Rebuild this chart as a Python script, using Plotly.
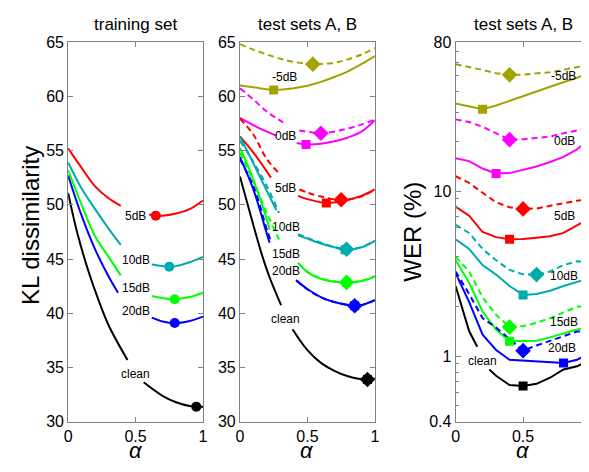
import math
import plotly.graph_objects as go

# ---------------- colours ----------------
C_OLIVE = "#A3A300"
C_MAG = "#FF00FF"
C_RED = "#FF0000"
C_CYAN = "#00ABAB"
C_GREEN = "#00FF00"
C_BLUE = "#0000FF"
C_BLACK = "#000000"

# ---------------- panel 1: training set (KL dissimilarity) ----------------
tr5_a = [0, 0.1, 0.2, 0.3, 0.39, None, 0.6, 0.65, 0.7, 0.8, 0.9, 1.0]
tr5_kl = [55.2, 53.4, 51.7, 50.6, 49.9, None, 49.1, 49.0, 49.0, 49.2, 49.6, 50.4]
tr10_a = [0, 0.1, 0.2, 0.3, 0.39, None, 0.62, 0.7, 0.75, 0.8, 0.9, 1.0]
tr10_kl = [53.9, 51.5, 49.6, 47.8, 46.3, None, 44.5, 44.35, 44.3, 44.35, 44.7, 45.2]
tr15_a = [0, 0.1, 0.2, 0.3, 0.39, None, 0.62, 0.7, 0.79, 0.9, 1.0]
tr15_kl = [53.2, 50.0, 47.1, 45.2, 43.5, None, 41.6, 41.4, 41.3, 41.5, 41.9]
tr20_a = [0, 0.1, 0.2, 0.3, 0.37, None, 0.62, 0.7, 0.79, 0.9, 1.0]
tr20_kl = [52.7, 49.0, 45.9, 43.4, 41.9, None, 39.6, 39.25, 39.1, 39.3, 39.7]
trcl_a = [0, 0.07, 0.15, 0.22, 0.3, 0.44, None, 0.56, 0.7, 0.8, 0.9, 0.95, 1.0]
trcl_kl = [51.1, 47.3, 43.9, 41.4, 38.9, 35.7, None, 33.65, 32.4, 31.8, 31.45, 31.4, 31.4]

train_min_a = [0.65, 0.75, 0.79, 0.79, 0.95]
train_min_kl = [49.0, 44.3, 41.3, 39.1, 31.4]
train_lbl = ["5dB", "10dB", "15dB", "20dB", "clean"]
train_lbl_a = [0.5, 0.5, 0.5, 0.5, 0.5]
train_lbl_kl = [49.0, 44.9, 42.3, 40.2, 34.4]

# ---------------- panel 2: test sets A (solid), B (dashed), KL ----------------
m5A_a = [0, 0.1, 0.25, 0.3, 0.4, 0.5, 0.6, 0.7, 0.8, 0.9, 1.0]
m5A_kl = [61.0, 60.83, 60.59, 60.61, 60.74, 60.97, 61.33, 61.78, 62.3, 62.96, 63.7]
m5B_a = [0, 0.1, 0.2, 0.3, 0.4, 0.54, 0.6, 0.7, 0.8, 0.9, 1.0]
m5B_kl = [64.8, 64.3, 63.85, 63.46, 63.17, 62.96, 62.97, 63.1, 63.4, 63.85, 64.44]
z0A_a = [0, 0.1, 0.2, 0.27, None, 0.42, 0.49, 0.6, 0.7, 0.8, 0.9, 1.0]
z0A_kl = [58.0, 57.33, 56.74, 56.36, None, 55.7, 55.56, 55.62, 55.85, 56.2, 56.74, 57.8]
z0B_a = [0, 0.1, 0.2, 0.32, None, 0.44, 0.6, 0.7, 0.8, 0.9, 1.0]
z0B_kl = [60.74, 59.7, 58.58, 57.6, None, 56.85, 56.6, 56.74, 57.03, 57.39, 57.87]
p5A_a = [0, 0.1, 0.23, None, 0.43, 0.5, 0.64, 0.75, 0.9, 1.0]
p5A_kl = [56.3, 54.8, 52.5, None, 50.82, 50.52, 50.17, 50.3, 50.82, 51.41]
p5B_a = [0, 0.1, 0.2, 0.29, None, 0.44, 0.5, 0.6, 0.75, 0.9, 1.0]
p5B_kl = [57.95, 56.45, 54.2, 52.9, None, 51.41, 51.12, 50.76, 50.46, 50.76, 51.41]
p10A_a = [0, 0.1, 0.2, 0.27, None, 0.43, 0.5, 0.6, 0.7, 0.78, 0.9, 1.0]
p10A_kl = [56.3, 53.8, 51.26, 49.5, None, 47.2, 46.88, 46.44, 46.08, 45.85, 46.08, 46.68]
p10B_a = [0, 0.1, 0.2, 0.29, None, 0.43, 0.5, 0.6, 0.7, 0.79, 0.9, 1.0]
p10B_kl = [55.9, 53.93, 51.7, 49.25, None, 47.3, 46.95, 46.5, 46.12, 45.9, 46.1, 46.7]
p15A_a = [0, 0.1, 0.2, 0.22, None, 0.45, 0.51, 0.6, 0.7, 0.79, 0.9, 1.0]
p15A_kl = [55.26, 52.3, 48.6, 47.7, None, 44.4, 43.7, 43.18, 42.9, 42.83, 42.97, 43.4]
p15B_a = [0, 0.1, 0.2, 0.29, None, 0.43, 0.51, 0.6, 0.7, 0.79, 0.9, 1.0]
p15B_kl = [54.8, 52.15, 49.2, 46.8, None, 44.66, 43.75, 43.22, 42.93, 42.85, 42.99, 43.42]
p20A_a = [0, 0.1, 0.2, 0.22, None, 0.415, 0.5, 0.6, 0.7, 0.85, 0.9, 1.0]
p20A_kl = [54.4, 51.4, 47.3, 46.5, None, 43.06, 42.24, 41.5, 41.05, 40.7, 40.75, 41.2]
p20B_a = [0, 0.1, 0.2, 0.23, None, 0.42, 0.5, 0.6, 0.7, 0.85, 0.9, 1.0]
p20B_kl = [54.2, 51.7, 47.7, 46.6, None, 43.0, 42.2, 41.47, 41.03, 40.7, 40.75, 41.2]
clA_a = [0, 0.1, 0.16, 0.22, 0.305, None, 0.39, 0.5, 0.6, 0.7, 0.8, 0.945, 1.0]
clA_kl = [52.6, 48.1, 45.5, 43.3, 40.75, None, 38.53, 36.6, 35.43, 34.7, 34.2, 33.9, 34.0]

test_minA_a = [0.25, 0.49, 0.64, 0.78, 0.79, 0.85, 0.945]
test_minA_kl = [60.59, 55.56, 50.17, 45.85, 42.83, 40.7, 33.9]
test_minB_a = [0.54, 0.6, 0.75, 0.79, 0.79, 0.85, 0.945]
test_minB_kl = [62.96, 56.6, 50.46, 45.9, 42.85, 40.7, 33.9]
test_lbl = ["-5dB", "0dB", "5dB", "10dB", "15dB", "20dB", "clean"]
test_lbl_a = [0.33, 0.34, 0.34, 0.34, 0.34, 0.34, 0.34]
test_lbl_kl = [61.78, 56.3, 51.56, 48.0, 45.5, 43.86, 39.5]

# ---------------- panel 3: test sets A (solid), B (dashed), WER % ----------------
wer_alpha = [0, 0.1, 0.2, 0.3, 0.4, 0.5, 0.6, 0.7, 0.8, 0.9, 1.0]
wer_m5_B = [58.7, 56.6, 54.2, 51.8, 50.6, 50.8, 51.5, 52.5, 54.2, 56.2, 58.7]
wer_m5_A = [33.9, 32.5, 31.3, 33.0, 35.1, 37.5, 40.1, 42.9, 45.5, 48.6, 52.5]
wer_0_B = [27.2, 26.2, 24.5, 22.4, 20.5, 20.6, 20.9, 21.4, 22.4, 23.4, 24.3]
wer_0_A = [15.8, 15.2, 13.7, 12.8, 12.85, 13.4, 14.1, 15.0, 16.1, 17.9, 20.8]
wer_5_B = [12.3, 11.2, 9.77, 8.55, 7.98, 7.8, 7.85, 8.17, 8.45, 8.73, 8.93]
wer_5_A = [8.05, 7.1, 5.65, 5.26, 5.1, 5.12, 5.22, 5.33, 5.58, 6.18, 6.9]
wer_10_B = [6.24, 5.58, 4.46, 3.81, 3.33, 3.13, 3.12, 3.26, 3.56, 3.76, 3.73]
wer_10_A = [5.1, 4.46, 3.56, 3.12, 2.66, 2.35, 2.38, 2.49, 2.66, 2.81, 2.98]
wer_15_B = [3.99, 3.26, 2.27, 1.78, 1.50, 1.52, 1.59, 1.70, 1.84, 1.99, 2.01]
wer_15_A = [3.81, 2.79, 1.86, 1.45, 1.23, 1.235, 1.24, 1.30, 1.37, 1.45, 1.49]
wer_20_B = [3.26, 2.38, 1.70, 1.49, 1.27, 1.08, 1.16, 1.24, 1.33, 1.41, 1.42]
wer_20_A = [3.18, 2.13, 1.35, 1.09, 0.95, 0.94, 0.93, 0.92, 0.908, 0.95, 1.05]
wer_cl_a = [0, 0.1, 0.16, None, 0.25, 0.3, 0.4, 0.5, 0.6, 0.7, 0.8, 0.9, 1.0]
wer_cl_A = [2.66, 1.42, 1.14, None, 0.83, 0.76, 0.668, 0.66, 0.68, 0.74, 0.83, 0.868, 0.95]

wer_lbl = ["-5dB", "0dB", "5dB", "10dB", "15dB", "20dB", "clean"]
wer_lbl_a = [0.8, 0.81, 0.81, 0.8, 0.8, 0.785, 0.196]
wer_lbl_v = [49.5, 20.0, 7.08, 3.07, 1.61, 1.125, 0.94]

wer_ticks = [0.4, 1, 10, 80]
wer_minor = [0.5, 0.6, 0.7, 0.8, 0.9, 2, 3, 4, 5, 6, 7, 8, 9, 20, 30, 40, 50, 60, 70]
kl_ticks = [30, 35, 40, 45, 50, 55, 60, 65]

FONT = "Liberation Sans, Arial, sans-serif"
LW = 2
DASH = "6px,4px"

fig = go.Figure()


def line(x, y, color, xa, ya, dash="solid", shape="spline"):
    fig.add_trace(go.Scatter(
        x=x, y=y, mode="lines", xaxis=xa, yaxis=ya,
        line=dict(color=color, width=LW, dash=dash, shape=shape, smoothing=1.0),
        connectgaps=False, showlegend=False, hoverinfo="skip"))


def marks(x, y, colors, symbol, size, xa, ya):
    fig.add_trace(go.Scatter(
        x=x, y=y, mode="markers", xaxis=xa, yaxis=ya,
        marker=dict(color=colors, symbol=symbol, size=size, line=dict(width=0)),
        showlegend=False, hoverinfo="skip"))


# panel 1
for xs, ys, c in [(tr5_a, tr5_kl, C_RED), (tr10_a, tr10_kl, C_CYAN),
                  (tr15_a, tr15_kl, C_GREEN), (tr20_a, tr20_kl, C_BLUE),
                  (trcl_a, trcl_kl, C_BLACK)]:
    line(xs, ys, c, "x", "y")
marks(train_min_a, train_min_kl, [C_RED, C_CYAN, C_GREEN, C_BLUE, C_BLACK],
      "circle", 10, "x", "y")

# panel 2
p2 = [(m5A_a, m5A_kl, m5B_a, m5B_kl, C_OLIVE),
      (z0A_a, z0A_kl, z0B_a, z0B_kl, C_MAG),
      (p5A_a, p5A_kl, p5B_a, p5B_kl, C_RED),
      (p10A_a, p10A_kl, p10B_a, p10B_kl, C_CYAN),
      (p15A_a, p15A_kl, p15B_a, p15B_kl, C_GREEN),
      (p20A_a, p20A_kl, p20B_a, p20B_kl, C_BLUE)]
for xa_, ya_, xb_, yb_, c in p2:
    line(xb_, yb_, c, "x2", "y2", dash=DASH)
    line(xa_, ya_, c, "x2", "y2")
line(clA_a, clA_kl, C_BLACK, "x2", "y2")
test_cols = [C_OLIVE, C_MAG, C_RED, C_CYAN, C_GREEN, C_BLUE, C_BLACK]
marks(test_minA_a, test_minA_kl, test_cols, "square", 9, "x2", "y2")
marks(test_minB_a, test_minB_kl, test_cols, "diamond", 12, "x2", "y2")

# panel 3
p3 = [(wer_m5_A, wer_m5_B, C_OLIVE), (wer_0_A, wer_0_B, C_MAG),
      (wer_5_A, wer_5_B, C_RED), (wer_10_A, wer_10_B, C_CYAN),
      (wer_15_A, wer_15_B, C_GREEN), (wer_20_A, wer_20_B, C_BLUE)]
sqx, sqy, sqc, dix, diy, dic = [], [], [], [], [], []
for ya_, yb_, c in p3:
    line(wer_alpha, yb_, c, "x3", "y3", dash=DASH, shape="linear")
    line(wer_alpha, ya_, c, "x3", "y3", shape="linear")
    ia = ya_.index(min(ya_))
    ib = yb_.index(min(yb_))
    sqx.append(wer_alpha[ia]); sqy.append(ya_[ia]); sqc.append(c)
    dix.append(wer_alpha[ib]); diy.append(yb_[ib]); dic.append(c)
line(wer_cl_a, wer_cl_A, C_BLACK, "x3", "y3", shape="linear")
vals = [v for v in wer_cl_A if v is not None]
icl = wer_cl_A.index(min(vals))
sqx.append(wer_cl_a[icl]); sqy.append(wer_cl_A[icl]); sqc.append(C_BLACK)
marks(dix, diy, dic, "diamond", 12, "x3", "y3")
marks(sqx, sqy, sqc, "square", 9, "x3", "y3")

# ---------------- annotations ----------------
ann = []
for t, a, v in zip(train_lbl, train_lbl_a, train_lbl_kl):
    ann.append(dict(x=a, y=v, xref="x", yref="y", text=t, showarrow=False,
                    font=dict(family=FONT, size=12, color="black")))
for t, a, v in zip(test_lbl, test_lbl_a, test_lbl_kl):
    ann.append(dict(x=a, y=v, xref="x2", yref="y2", text=t, showarrow=False,
                    font=dict(family=FONT, size=12, color="black")))
for t, a, v in zip(wer_lbl, wer_lbl_a, wer_lbl_v):
    ann.append(dict(x=a, y=math.log10(v), xref="x3", yref="y3", text=t,
                    showarrow=False, font=dict(family=FONT, size=12, color="black")))

W, H = 589, 472
X1 = (57, 194)
X2 = (231.5, 368.5)
X3 = (450.5, 587.5)
YT, YB = 27, 421


def px(v):
    return v / W


def py(v):
    return 1 - v / H


for title, (l, r) in zip(["training set", "test sets A, B", "test sets A, B"], [X1, X2, X3]):
    ann.append(dict(x=px((l + r) / 2), y=py(9), xref="paper", yref="paper",
                    text=title, showarrow=False, xanchor="center", yanchor="middle",
                    font=dict(family=FONT, size=17, color="black")))
    ann.append(dict(x=px((l + r) / 2), y=py(451), xref="paper", yref="paper",
                    text="<i>α</i>", showarrow=False, xanchor="center", yanchor="middle",
                    font=dict(family=FONT, size=22, color="black")))
ann.append(dict(x=px(18), y=py(217), xref="paper", yref="paper", text="KL dissimilarity",
                textangle=-90, showarrow=False, xanchor="center", yanchor="middle",
                font=dict(family=FONT, size=24, color="black")))
ann.append(dict(x=px(407), y=py(224), xref="paper", yref="paper", text="WER (%)",
                textangle=-90, showarrow=False, xanchor="center", yanchor="middle",
                font=dict(family=FONT, size=24, color="black")))

common = dict(showline=True, linecolor="#808080", linewidth=1, mirror="ticks",
              ticks="inside", ticklen=5, tickcolor="#808080", showgrid=False,
              zeroline=False, tickfont=dict(family=FONT, size=16, color="black"))
xcommon = dict(common, range=[0, 1], tickvals=[0, 0.5, 1], ticktext=["0", "0.5", "1"])
ydom = [py(YB), py(YT)]

fig.update_layout(
    width=W, height=H, margin=dict(l=0, r=0, t=0, b=0),
    paper_bgcolor="white", plot_bgcolor="white",
    xaxis=dict(xcommon, domain=[px(X1[0]), px(X1[1])], anchor="y"),
    xaxis2=dict(xcommon, domain=[px(X2[0]), px(X2[1])], anchor="y2"),
    xaxis3=dict(xcommon, domain=[px(X3[0]), px(X3[1])], anchor="y3"),
    yaxis=dict(common, domain=ydom, range=[30, 65], tickvals=kl_ticks, anchor="x"),
    yaxis2=dict(common, domain=ydom, range=[30, 65], tickvals=kl_ticks, anchor="x2"),
    yaxis3=dict(common, domain=ydom, type="log",
                range=[math.log10(0.4), math.log10(80)],
                tickvals=wer_ticks, ticktext=[str(v) for v in wer_ticks], anchor="x3",
                minor=dict(tickvals=wer_minor, ticks="inside", ticklen=3,
                           tickcolor="#808080", showgrid=False)),
    annotations=ann,
)

fig.write_html("out.html")
